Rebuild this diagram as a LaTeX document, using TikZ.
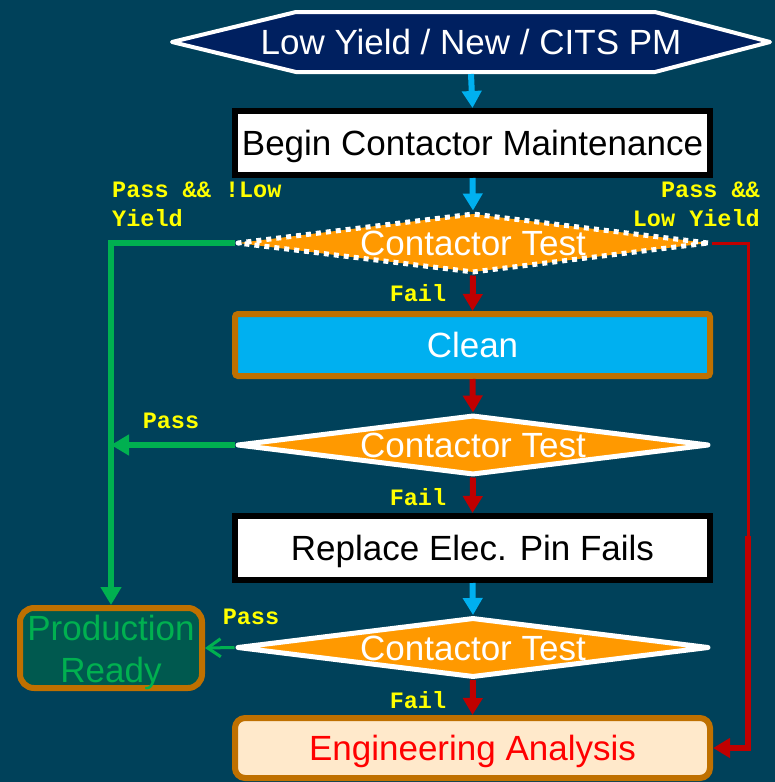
\documentclass[tikz,border=0pt]{standalone}
\usepackage{fontspec}
\setmainfont{Liberation Sans}
\setmonofont{Liberation Mono}
\usetikzlibrary{shapes.geometric,arrows.meta,calc}

\definecolor{bg}{HTML}{00415A}
\definecolor{navy}{HTML}{002060}
\definecolor{skyblue}{HTML}{00B0F0}
\definecolor{darkred}{HTML}{C00000}
\definecolor{okgreen}{HTML}{00B050}
\definecolor{testorange}{HTML}{FF9900}
\definecolor{rim}{HTML}{BF7000}
\definecolor{readyfill}{HTML}{00594F}
\definecolor{peach}{HTML}{FFE9CB}
\definecolor{labelyellow}{HTML}{FFFF00}

\tikzset{
  big/.style={font=\fontsize{35}{42}\selectfont},
  oneline/.style={big, text height=25pt, text depth=0pt},
  procbox/.style={oneline, rectangle, draw=black, line width=6pt, fill=white,
    text=black, minimum width=475pt, minimum height=64pt, inner sep=0pt},
  cleanbox/.style={oneline, rectangle, rounded corners=3pt, draw=rim, line width=6pt,
    fill=skyblue, text=white, minimum width=475pt, minimum height=62pt, inner sep=0pt},
  testdia/.style={oneline, diamond, draw=white, line width=5pt, line join=round,
    fill=testorange, text=white, minimum width=472pt, minimum height=60pt, inner sep=0pt},
  dottedtest/.style={testdia, dash pattern=on 5pt off 5pt},
  readybox/.style={big, rectangle, rounded corners=14pt, draw=rim, line width=6pt,
    fill=readyfill, text=okgreen, align=center, minimum width=182pt,
    minimum height=80pt, inner sep=0pt, text height=71pt, text depth=3pt},
  analysisbox/.style={oneline, rectangle, rounded corners=10pt, draw=rim, line width=6pt,
    fill=peach, text=red, minimum width=475pt, minimum height=60pt, inner sep=0pt},
  lbl/.style={font=\ttfamily\bfseries\fontsize{23.5}{29}\selectfont,
    text=labelyellow, inner sep=0pt},
  bluearrow/.style={draw=skyblue, line width=6pt, -{Triangle[length=17pt,width=19pt]}},
  redarrow/.style={draw=darkred, line width=6pt, -{Triangle[length=17pt,width=19pt]}},
  greenarrow/.style={draw=okgreen, line width=6pt, -{Triangle[length=18pt,width=20pt]}},
  thinred/.style={draw=darkred, line width=3pt},
  thingreen/.style={draw=okgreen, line width=3pt, -{Straight Barb[length=13pt,width=18pt]}},
}

\begin{document}
\begin{tikzpicture}[x=1pt,y=-1pt]
  % canvas
  \fill[bg] (0,0) rectangle (775,782);
  \useasboundingbox (0,0) rectangle (775,782);

  % start terminal (hexagon)
  \filldraw[fill=navy, draw=white, line width=4pt, line join=round]
    (172,42) -- (296,12) -- (655,12) -- (770,42) -- (655,72) -- (296,72) -- cycle;
  \node[oneline, text=white, inner sep=0pt, outer sep=2pt, minimum width=598pt,
        minimum height=60pt] (start) at (471,42) {Low Yield / New / CITS PM};

  % process steps
  \node[procbox] (begin) at (472.5,143) {Begin Contactor Maintenance};
  \node[dottedtest] (d1) at (473,243) {\makebox[0pt]{Contactor Test}};
  \node[cleanbox] (clean) at (472.5,345) {Clean};
  \node[testdia] (d2) at (473,445) {\makebox[0pt]{Contactor Test}};
  \node[procbox] (replace) at (472.5,548) {Replace Elec. Pin Fails};
  \node[testdia] (d3) at (473,647.5) {\makebox[0pt]{Contactor Test}};
  \node[analysisbox] (eng) at (472.5,748) {Engineering Analysis};
  \node[readybox] (prod) at (111,648) {Production\\Ready};

  % main flow
  \draw[bluearrow] (start.south) -- (begin.north);
  \draw[bluearrow] (begin.south) -- (d1.north);
  \draw[redarrow] (d1.south) -- (clean.north);
  \draw[redarrow] (clean.south) -- (d2.north);
  \draw[redarrow] (d2.south) -- (replace.north);
  \draw[bluearrow] (replace.south) -- (d3.north);
  \draw[redarrow] (d3.south) -- (eng.north);

  % pass branches to production
  \draw[greenarrow] (d1.west) -| (prod.north);
  \draw[greenarrow] (d2.west) -- (d2.west -| prod.north);
  \draw[thingreen] (d3.west) -- (prod.east);

  % low-yield branch to engineering analysis
  \coordinate (rt) at (748,243);
  \coordinate (rj) at (748,536);
  \draw[thinred] (d1.east) -- (rt) -- (rj);
  \draw[redarrow] (rj) |- (eng.east);

  % branch labels
  \node[lbl, align=left, anchor=north west] (l1) at (112,182) {Pass \&\& !Low\\Yield};
  \node[lbl, align=right, anchor=north east] (l2) at (760,182) {Pass \&\&\\Low Yield};
  \node[lbl] (f1) at (418,293) {Fail};
  \node[lbl] (p2) at (171,421) {Pass};
  \node[lbl] (f2) at (418,497) {Fail};
  \node[lbl] (p3) at (251,617) {Pass};
  \node[lbl] (f3) at (418,700) {Fail};
\end{tikzpicture}
\end{document}
